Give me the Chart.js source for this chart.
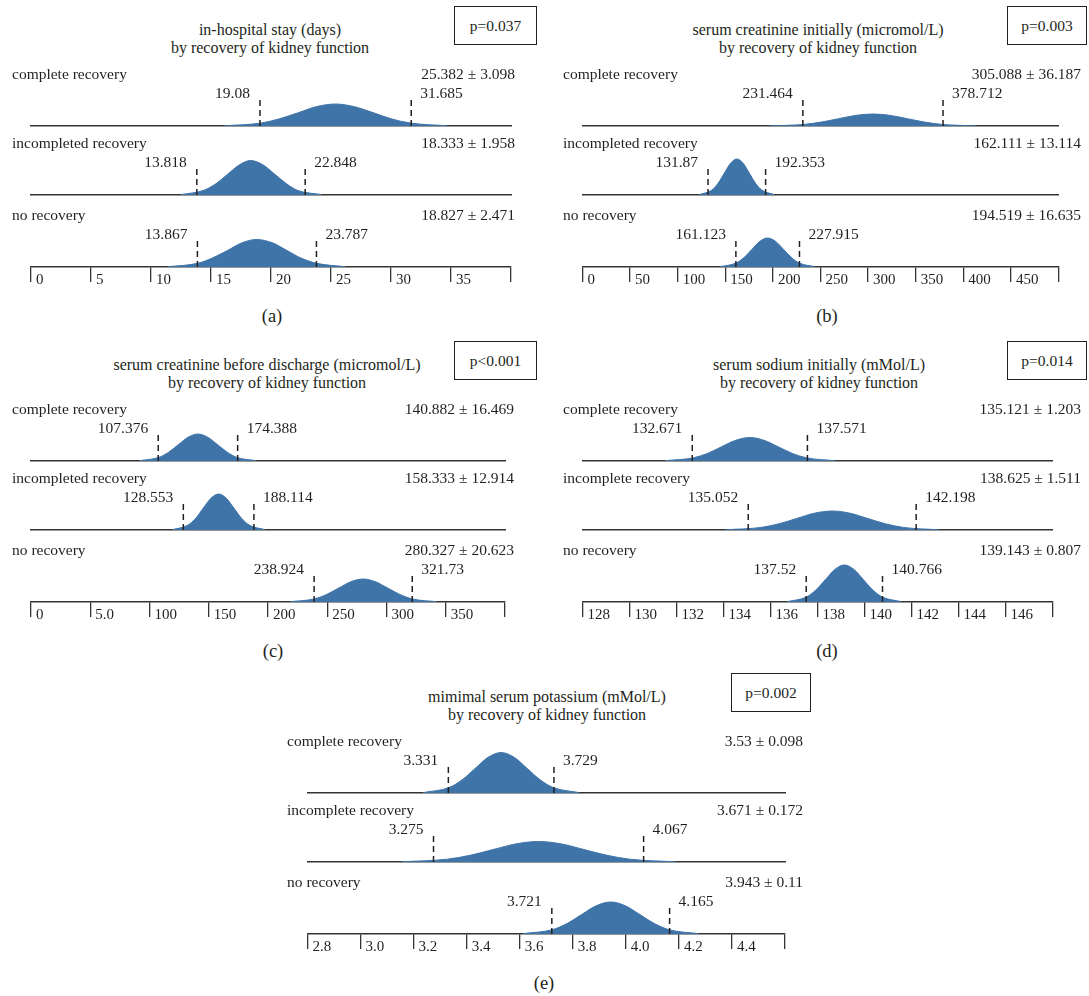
<!DOCTYPE html>
<html>
<head>
<meta charset="utf-8">
<script src="https://cdn.jsdelivr.net/npm/chart.js@4.4.1/dist/chart.umd.min.js"></script>
<style>
  body { margin: 0; background: #fff; }
  #fig { position: relative; width: 1089px; height: 996px; font-family: "Liberation Serif", serif; color: #231f20; }
  .title { position: absolute; width: 500px; text-align: center; font-size: 16px; line-height: 18px; white-space: nowrap; }
  .pbox { position: absolute; border: 1.3px solid #231f20; box-sizing: border-box; text-align: center; font-size: 15.5px; }
  .letter { position: absolute; width: 60px; height: 22px; line-height: 22px; text-align: center; font-size: 18.5px; }
  canvas { position: absolute; }
</style>
</head>
<body>
<div id="fig"></div>
<script>
const INK = '#231f20';
const LINE = '#333';
const BLUE = '#3f74a9';

const groupsABC = ['complete recovery', 'incompleted recovery', 'no recovery'];
const groupsDE = ['complete recovery', 'incomplete recovery', 'no recovery'];
const subtitle = 'by recovery of kidney function';

// (a) in-hospital stay
const aMean = [25.382, 18.333, 18.827];
const aSd = [3.098, 1.958, 2.471];
const aLow = [19.08, 13.818, 13.867];
const aHigh = [31.685, 22.848, 23.787];
const aTicks = ['0', '5', '10', '15', '20', '25', '30', '35', ''];
const aCurveX = [
  [16.1, 19.2, 20.7, 22.3, 23.8, 25.4, 26.9, 28.5, 30.0, 31.6, 34.7],
  [12.5, 14.4, 15.4, 16.4, 17.4, 18.3, 19.3, 20.3, 21.3, 22.2, 24.2],
  [11.4, 13.9, 15.1, 16.4, 17.6, 18.8, 20.1, 21.3, 22.5, 23.8, 26.2]
];
const aCurveY = [
  [0.2, 3.0, 7.2, 13.4, 19.4, 22, 19.4, 13.4, 7.2, 3.0, 0.2],
  [0.4, 4.7, 11.2, 20.9, 30.4, 34.5, 30.4, 20.9, 11.2, 4.7, 0.4],
  [0.3, 3.7, 8.9, 16.7, 24.3, 27.5, 24.3, 16.7, 8.9, 3.7, 0.3]
];

// (b) serum creatinine initially
const bMean = [305.088, 162.111, 194.519];
const bSd = [36.187, 13.114, 16.635];
const bLow = [231.464, 131.87, 161.123];
const bHigh = [378.712, 192.353, 227.915];
const bTicks = ['0', '50', '100', '150', '200', '250', '300', '350', '400', '450', ''];
const bCurveX = [
  [196.5, 232.7, 250.8, 268.9, 287.0, 305.1, 323.2, 341.3, 359.4, 377.5, 413.6],
  [122.8, 135.9, 142.4, 149.0, 155.6, 162.1, 168.7, 175.2, 181.8, 188.3, 201.5],
  [144.6, 161.2, 169.6, 177.9, 186.2, 194.5, 202.8, 211.2, 219.5, 227.8, 244.4]
];
const bCurveY = [
  [0.1, 1.6, 3.9, 7.3, 10.6, 12, 10.6, 7.3, 3.9, 1.6, 0.1],
  [0.4, 4.9, 11.7, 21.9, 31.8, 36, 31.8, 21.9, 11.7, 4.9, 0.4],
  [0.3, 3.9, 9.4, 17.6, 25.6, 29, 25.6, 17.6, 9.4, 3.9, 0.3]
];

// (c) serum creatinine before discharge
const cMean = [140.882, 158.333, 280.327];
const cSd = [16.469, 12.914, 20.623];
const cLow = [107.376, 128.553, 238.924];
const cHigh = [174.388, 188.114, 321.73];
const cTicks = ['0', '5.0', '100', '150', '200', '250', '300', '350', ''];
const cCurveX = [
  [91.5, 107.9, 116.2, 124.4, 132.6, 140.9, 149.1, 157.4, 165.6, 173.8, 190.3],
  [119.6, 132.5, 139.0, 145.4, 151.9, 158.3, 164.8, 171.2, 177.7, 184.2, 197.1],
  [218.5, 239.1, 249.4, 259.7, 270.0, 280.3, 290.6, 301.0, 311.3, 321.6, 342.2]
];
const cCurveY = [
  [0.3, 3.6, 8.8, 16.4, 23.8, 27, 23.8, 16.4, 8.8, 3.6, 0.3],
  [0.4, 4.9, 11.7, 21.9, 31.8, 36, 31.8, 21.9, 11.7, 4.9, 0.4],
  [0.3, 3.1, 7.5, 14.0, 20.3, 23, 20.3, 14.0, 7.5, 3.1, 0.3]
];

// (d) serum sodium initially
const dMean = [135.121, 138.625, 139.143];
const dSd = [1.203, 1.511, 0.807];
const dLow = [132.671, 135.052, 137.52];
const dHigh = [137.571, 142.198, 140.766];
const dTicks = ['128', '130', '132', '134', '136', '138', '140', '142', '144', '146', ''];
const dCurveX = [
  [131.51, 132.72, 133.32, 133.92, 134.52, 135.12, 135.72, 136.32, 136.93, 137.53, 138.73],
  [134.09, 135.60, 136.36, 137.11, 137.87, 138.63, 139.38, 140.14, 140.89, 141.65, 143.16],
  [136.72, 137.53, 137.93, 138.34, 138.74, 139.14, 139.55, 139.95, 140.35, 140.76, 141.56]
];
const dCurveY = [
  [0.3, 3.2, 7.6, 14.3, 20.7, 23.5, 20.7, 14.3, 7.6, 3.2, 0.3],
  [0.2, 2.6, 6.2, 11.5, 16.8, 19, 16.8, 11.5, 6.2, 2.6, 0.2],
  [0.4, 5.0, 12.0, 22.5, 32.6, 37, 32.6, 22.5, 12.0, 5.0, 0.4]
];

// (e) minimal serum potassium
const eMean = [3.53, 3.671, 3.943];
const eSd = [0.098, 0.172, 0.11];
const eLow = [3.331, 3.275, 3.721];
const eHigh = [3.729, 4.067, 4.165];
const eTicks = ['2.8', '3.0', '3.2', '3.4', '3.6', '3.8', '4.0', '4.2', '4.4', ''];
const eCurveX = [
  [3.236, 3.334, 3.383, 3.432, 3.481, 3.53, 3.579, 3.628, 3.677, 3.726, 3.824],
  [3.155, 3.327, 3.413, 3.499, 3.585, 3.671, 3.757, 3.843, 3.929, 4.015, 4.187],
  [3.613, 3.723, 3.778, 3.833, 3.888, 3.943, 3.998, 4.053, 4.108, 4.163, 4.273]
];
const eCurveY = [
  [0.4, 5.5, 13.2, 24.6, 35.7, 40.5, 35.7, 24.6, 13.2, 5.5, 0.4],
  [0.2, 2.8, 6.7, 12.4, 18.1, 20.5, 18.1, 12.4, 6.7, 2.8, 0.2],
  [0.4, 4.3, 10.4, 19.4, 28.2, 32, 28.2, 19.4, 10.4, 4.3, 0.4]
];

// panel placement (pixels) + which arrays go where
const panels = [
  { title: 'in-hospital stay (days)', p: 'p=0.037', letter: '(a)', groups: groupsABC,
    mean: aMean, sd: aSd, low: aLow, high: aHigh, ticks: aTicks, cx: aCurveX, cy: aCurveY,
    min: 0, max: 40, step: 5,
    left: 0, top: 0, width: 545, axis: [31, 511], labelX: 12, statsRight: 515, titleX: 270, pbox: [454, 537], letterX: 272 },
  { title: 'serum creatinine initially (micromol/L)', p: 'p=0.003', letter: '(b)', groups: groupsABC,
    mean: bMean, sd: bSd, low: bLow, high: bHigh, ticks: bTicks, cx: bCurveX, cy: bCurveY,
    min: 0, max: 500, step: 50,
    left: 545, top: 0, width: 544, axis: [582.5, 1058.5], labelX: 563, statsRight: 1081, titleX: 818, pbox: [1007, 1087], letterX: 827 },
  { title: 'serum creatinine before discharge (micromol/L)', p: 'p<0.001', letter: '(c)', groups: groupsABC,
    mean: cMean, sd: cSd, low: cLow, high: cHigh, ticks: cTicks, cx: cCurveX, cy: cCurveY,
    min: 0, max: 400, step: 50,
    left: 0, top: 335, width: 545, axis: [31, 505], labelX: 12, statsRight: 514, titleX: 267, pbox: [454, 537], letterX: 273 },
  { title: 'serum sodium initially (mMol/L)', p: 'p=0.014', letter: '(d)', groups: groupsDE,
    mean: dMean, sd: dSd, low: dLow, high: dHigh, ticks: dTicks, cx: dCurveX, cy: dCurveY,
    min: 128, max: 148, step: 2,
    left: 545, top: 335, width: 544, axis: [582.5, 1052.5], labelX: 563, statsRight: 1081, titleX: 819, pbox: [1007, 1087], letterX: 827 },
  { title: 'mimimal serum potassium (mMol/L)', p: 'p=0.002', letter: '(e)', groups: groupsDE,
    mean: eMean, sd: eSd, low: eLow, high: eHigh, ticks: eTicks, cx: eCurveX, cy: eCurveY,
    min: 2.8, max: 4.6, step: 0.2,
    left: 270, top: 667, width: 540, axis: [307.5, 785], labelX: 287, statsRight: 803, titleX: 547, pbox: [731, 811], letterX: 544 }
];

const BASELINES = [126, 195, 267];
const fig = document.getElementById('fig');

function addDiv(cls, text, css) {
  const d = document.createElement('div');
  d.className = cls;
  d.innerHTML = text;
  Object.assign(d.style, css);
  fig.appendChild(d);
}

function dashed(v) {
  return {
    data: [{ x: v, y: 0 }, { x: v, y: 30 }],
    borderColor: INK, borderWidth: 1.5, borderDash: [6, 4],
    pointRadius: 0, fill: false, tension: 0
  };
}

function makeRow(p, r) {
  const last = r === 2;
  const base = p.top + BASELINES[r];
  const cv = document.createElement('canvas');
  cv.width = p.width;
  cv.height = last ? 98 : 66;
  cv.style.left = p.left + 'px';
  cv.style.top = (base - 64) + 'px';
  fig.appendChild(cv);

  const xAxis = {
    type: 'linear', min: p.min, max: p.max,
    border: { display: true, color: LINE, width: 1.5 }
  };
  if (last) {
    Object.assign(xAxis, {
      afterFit: s => { s.height = 30; },
      grid: { display: true, drawOnChartArea: false, drawTicks: true, tickLength: 15, color: LINE, lineWidth: 1.3 },
      ticks: {
        stepSize: p.step, autoSkip: false, maxRotation: 0, minRotation: 0,
        align: 'start', labelOffset: 5, padding: -11, color: INK,
        font: { family: 'Liberation Serif', size: 15 },
        callback: (v, i) => p.ticks[i] ?? ''
      }
    });
  } else {
    Object.assign(xAxis, {
      afterFit: s => { s.height = 0; },
      grid: { display: false, drawTicks: false },
      ticks: { display: false }
    });
  }

  new Chart(cv, {
    type: 'line',
    data: {
      datasets: [
        dashed(p.low[r]),
        dashed(p.high[r]),
        {
          data: p.cx[r].map((x, i) => ({ x: x, y: p.cy[r][i] })),
          fill: 'origin', backgroundColor: BLUE, borderColor: BLUE, borderWidth: 1,
          pointRadius: 0, cubicInterpolationMode: 'monotone'
        }
      ]
    },
    options: {
      responsive: false, animation: false, events: [],
      layout: { padding: { left: p.axis[0] - p.left, right: p.left + p.width - p.axis[1], top: 14, bottom: last ? 4 : 2 } },
      scales: {
        x: xAxis,
        y: { display: false, min: 0, max: 50 }
      },
      plugins: { legend: { display: false }, tooltip: { enabled: false } }
    },
    plugins: [{
      id: 'rowText',
      afterDraw(chart) {
        const ctx = chart.ctx;
        const xs = chart.scales.x;
        ctx.save();
        ctx.font = '15.5px "Liberation Serif"';
        ctx.fillStyle = INK;
        ctx.textBaseline = 'middle';
        ctx.textAlign = 'left';
        ctx.fillText(p.groups[r], p.labelX - p.left, 13);
        ctx.fillText(String(p.high[r]), xs.getPixelForValue(p.high[r]) + 9, 32);
        ctx.textAlign = 'right';
        ctx.fillText(p.mean[r] + ' \u00b1 ' + p.sd[r], p.statsRight - p.left, 13);
        ctx.fillText(String(p.low[r]), xs.getPixelForValue(p.low[r]) - 10, 32);
        ctx.restore();
      }
    }]
  });
}

panels.forEach(p => {
  addDiv('title', p.title + '<br>' + subtitle, { left: (p.titleX - 250) + 'px', top: (p.top + 21) + 'px' });
  addDiv('pbox', p.p, {
    left: p.pbox[0] + 'px', top: (p.top + 6) + 'px',
    width: (p.pbox[1] - p.pbox[0]) + 'px', height: '39px', lineHeight: '37px'
  });
  addDiv('letter', p.letter, { left: (p.letterX - 30) + 'px', top: (p.top + 305) + 'px' });
  for (let r = 0; r < 3; r++) makeRow(p, r);
});
</script>
</body>
</html>
